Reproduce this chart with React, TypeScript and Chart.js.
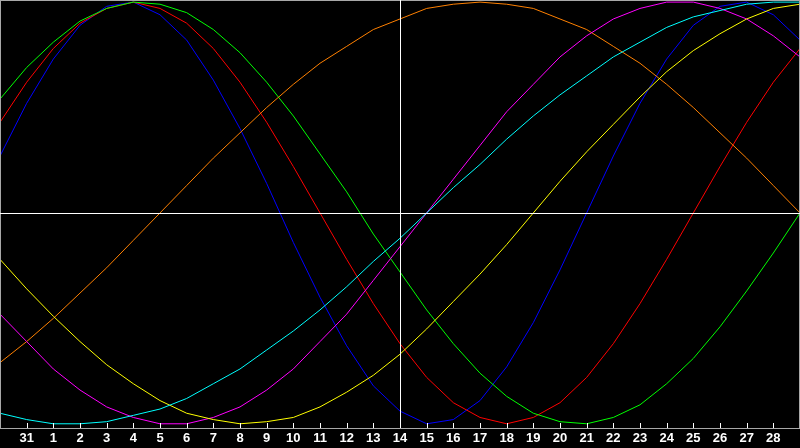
import React, { useEffect, useRef } from "react";
import { Chart, ChartConfiguration, Plugin, registerables } from "chart.js";

Chart.register(...registerables);

// day labels along the bottom (first and last slots are the plot edges)
const dayLabels = [
  "", "31", "1", "2", "3", "4", "5", "6", "7", "8", "9", "10", "11", "12", "13",
  "14", "15", "16", "17", "18", "19", "20", "21", "22", "23", "24", "25", "26",
  "27", "28", "",
];

// index of the "today" marker (day 14)
const todayIndex = 15;

const physical = [
  0.27, 0.52, 0.73, 0.89, 0.98, 1.0, 0.94, 0.82, 0.63, 0.4, 0.14, -0.14, -0.4,
  -0.63, -0.82, -0.94, -1.0, -0.98, -0.89, -0.73, -0.52, -0.27, 0.0, 0.27, 0.52,
  0.73, 0.89, 0.98, 1.0, 0.94, 0.82,
];
const emotional = [
  0.43, 0.62, 0.78, 0.9, 0.97, 1.0, 0.97, 0.9, 0.78, 0.62, 0.43, 0.22, 0.0,
  -0.22, -0.43, -0.62, -0.78, -0.9, -0.97, -1.0, -0.97, -0.9, -0.78, -0.62,
  -0.43, -0.22, 0.0, 0.22, 0.43, 0.62, 0.78,
];
const intellectual = [
  0.54, 0.69, 0.81, 0.91, 0.97, 1.0, 0.99, 0.95, 0.87, 0.76, 0.62, 0.46, 0.28,
  0.1, -0.1, -0.28, -0.46, -0.62, -0.76, -0.87, -0.95, -0.99, -1.0, -0.97,
  -0.91, -0.81, -0.69, -0.54, -0.37, -0.19, 0.0,
];
const intuitive = [
  -0.48, -0.61, -0.74, -0.84, -0.92, -0.97, -1.0, -1.0, -0.97, -0.92, -0.84,
  -0.74, -0.61, -0.48, -0.32, -0.16, 0.0, 0.16, 0.32, 0.48, 0.61, 0.74, 0.84,
  0.92, 0.97, 1.0, 1.0, 0.97, 0.92, 0.84, 0.74,
];
const aesthetic = [
  -0.22, -0.36, -0.49, -0.61, -0.72, -0.81, -0.89, -0.95, -0.98, -1.0, -0.99,
  -0.97, -0.92, -0.85, -0.77, -0.67, -0.55, -0.42, -0.29, -0.15, 0.0, 0.15,
  0.29, 0.42, 0.55, 0.67, 0.77, 0.85, 0.92, 0.97, 0.99,
];
const awareness = [
  -0.71, -0.61, -0.5, -0.38, -0.26, -0.13, 0.0, 0.13, 0.26, 0.38, 0.5, 0.61,
  0.71, 0.79, 0.87, 0.92, 0.97, 0.99, 1.0, 0.99, 0.97, 0.92, 0.87, 0.79, 0.71,
  0.61, 0.5, 0.38, 0.26, 0.13, 0.0,
];
const spiritual = [
  -0.95, -0.98, -1.0, -1.0, -0.99, -0.96, -0.93, -0.88, -0.81, -0.74, -0.65,
  -0.56, -0.46, -0.35, -0.23, -0.12, 0.0, 0.12, 0.23, 0.35, 0.46, 0.56, 0.65,
  0.74, 0.81, 0.88, 0.93, 0.96, 0.99, 1.0, 1.0,
];

// frame, tick marks pointing up, and the crosshair
const overlay: Plugin<"line"> = {
  id: "overlay",
  afterDatasetsDraw(chart) {
    const { ctx, chartArea, scales } = chart;
    const x = scales.x;
    const y = scales.y;
    ctx.save();
    ctx.lineWidth = 1;

    ctx.strokeStyle = "#a8a8a8";
    ctx.strokeRect(
      chartArea.left + 0.5,
      chartArea.top + 0.5,
      chartArea.right - chartArea.left - 1,
      chartArea.bottom - chartArea.top
    );

    ctx.strokeStyle = "#ffffff";
    ctx.beginPath();
    for (let i = 1; i < dayLabels.length - 1; i++) {
      const px = Math.round(x.getPixelForValue(i)) + 0.5;
      ctx.moveTo(px, chartArea.bottom);
      ctx.lineTo(px, chartArea.bottom - 5);
    }
    const cx = Math.round(x.getPixelForValue(todayIndex)) + 0.5;
    ctx.moveTo(cx, chartArea.top);
    ctx.lineTo(cx, chartArea.bottom);
    const cy = Math.round(y.getPixelForValue(0)) + 0.5;
    ctx.moveTo(chartArea.left, cy);
    ctx.lineTo(chartArea.right, cy);
    ctx.stroke();
    ctx.restore();
  },
};

const App: React.FC = () => {
  const chartRef = useRef<HTMLCanvasElement | null>(null);

  useEffect(() => {
    if (!chartRef.current) return;
    const context = chartRef.current.getContext("2d");
    if (!context) return;

    const line = (label: string, data: number[], color: string) => ({
      label,
      data,
      borderColor: color,
      backgroundColor: color,
      borderWidth: 1,
      pointRadius: 0,
      pointHoverRadius: 0,
      tension: 0,
      fill: false,
    });

    const config: ChartConfiguration<"line"> = {
      type: "line",
      data: {
        labels: dayLabels,
        datasets: [
          line("Spiritual", spiritual, "#00ffff"),
          line("Aesthetic", aesthetic, "#ffff00"),
          line("Intuitive", intuitive, "#ff00ff"),
          line("Awareness", awareness, "#ff8000"),
          line("Intellectual", intellectual, "#00ff00"),
          line("Emotional", emotional, "#ff0000"),
          line("Physical", physical, "#0000ff"),
        ],
      },
      options: {
        responsive: false,
        animation: false,
        layout: { padding: 0, autoPadding: false },
        plugins: {
          legend: { display: false },
          tooltip: { enabled: false },
        },
        scales: {
          x: {
            type: "category",
            offset: false,
            grid: { display: false, drawTicks: false, tickLength: 0 },
            border: { display: false },
            afterFit: (s) => {
              s.height = 20;
              s.paddingLeft = 0;
              s.paddingRight = 0;
            },
            ticks: {
              autoSkip: false,
              maxRotation: 0,
              minRotation: 0,
              padding: 3,
              color: "#ffffff",
              font: { family: "'Liberation Sans', Arial, sans-serif", size: 13, weight: "bold" },
            },
          },
          y: {
            display: false,
            min: -1.02,
            max: 1.01,
          },
        },
      },
      plugins: [overlay],
    };

    const chartInstance = new Chart(context, config);
    return () => {
      chartInstance.destroy();
    };
  }, []);

  return (
    <div
      style={{
        position: "fixed",
        left: 0,
        top: 0,
        width: 800,
        height: 448,
        background: "#000000",
      }}
    >
      <canvas ref={chartRef} width={800} height={448} style={{ display: "block" }} />
    </div>
  );
};

export default App;
